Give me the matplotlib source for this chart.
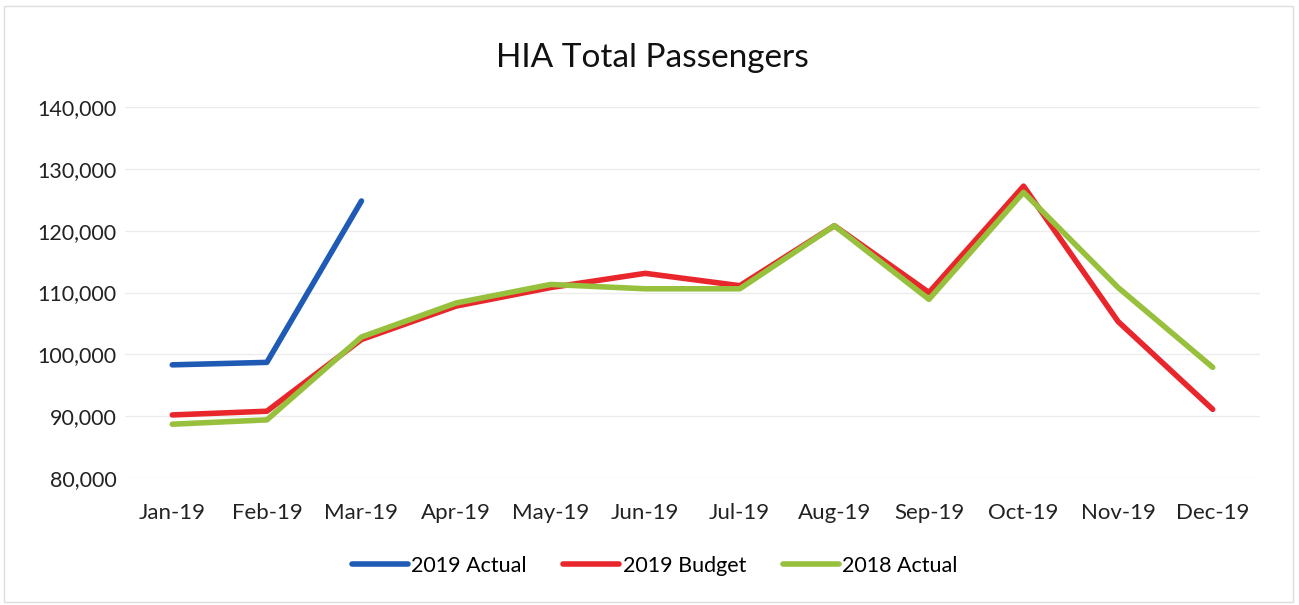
import numpy as np
import matplotlib.pyplot as plt
from matplotlib.ticker import FuncFormatter

months = ['Jan-19', 'Feb-19', 'Mar-19', 'Apr-19', 'May-19', 'Jun-19',
          'Jul-19', 'Aug-19', 'Sep-19', 'Oct-19', 'Nov-19', 'Dec-19']
actual_2019 = [98300, 98700, 124800]
budget_2019 = [90200, 90800, 102400, 107800, 110800, 113100,
               111100, 120800, 110000, 127200, 105300, 91100]
actual_2018 = [88700, 89400, 102800, 108300, 111300, 110600,
               110600, 120800, 108900, 126200, 110800, 97900]

plt.rcParams['font.family'] = ['Lato', 'DejaVu Sans']

fig = plt.figure(figsize=(12.99, 6.05), dpi=100)
ax = fig.add_axes([125 / 1299, 1 - 478 / 605, (1260 - 125) / 1299, (478 - 107) / 605])

x = np.arange(len(months))
ax.plot(x[:len(actual_2019)], actual_2019, color='#1f5bb5', lw=4, label='2019 Actual',
        solid_capstyle='round')
ax.plot(x, budget_2019, color='#e8262b', lw=4, label='2019 Budget', solid_capstyle='round')
ax.plot(x, actual_2018, color='#97c03c', lw=4, label='2018 Actual', solid_capstyle='round')

ax.set_xlim(-0.5, 11.5)
ax.set_ylim(80000, 140000)
ax.set_yticks(np.arange(80000, 140001, 10000))
ax.yaxis.set_major_formatter(FuncFormatter(lambda v, p: f'{int(v):,}'))
ax.set_xticks(x)
ax.set_xticklabels(months)
ax.tick_params(axis='both', length=0, colors='#222222')
ax.tick_params(axis='y', pad=6, labelsize=15.5)
ax.tick_params(axis='x', pad=18, labelsize=16)
ax.grid(axis='y', color='#ececec', lw=1)
ax.set_axisbelow(True)
for s in ax.spines.values():
    s.set_visible(False)

fig.text(0.502, 1 - 58 / 605, 'HIA Total Passengers', ha='center', va='center',
         fontsize=24, color='#111111')

fig.legend(loc='center', bbox_to_anchor=(0.504, 1 - 566 / 605), ncol=3, frameon=False,
           fontsize=15.5, handlelength=2.6, handletextpad=0.15, columnspacing=1.7)

fig.patches.append(plt.Rectangle((0.003, 0.005), 0.992, 0.985, transform=fig.transFigure,
                                 fill=False, edgecolor='#dddddd', lw=1))

fig.savefig('out.png', dpi=100)
